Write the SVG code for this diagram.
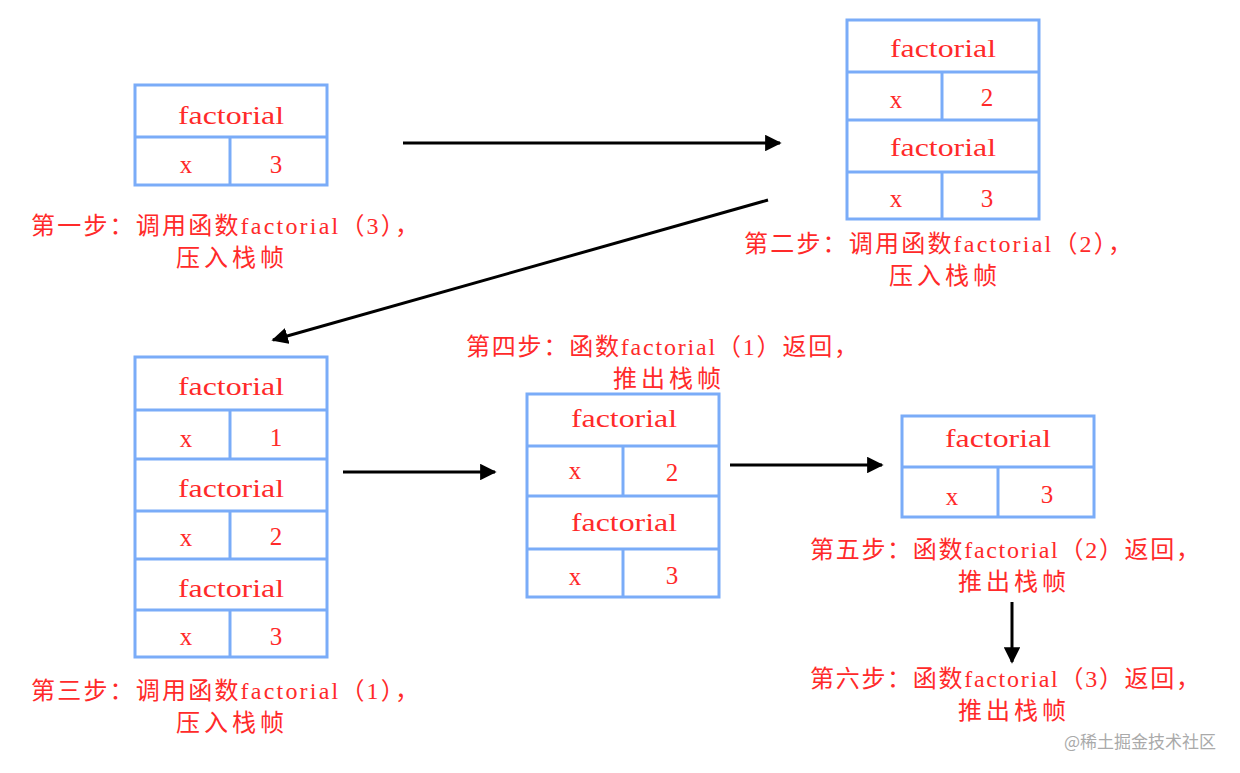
<svg xmlns="http://www.w3.org/2000/svg" width="1240" height="773" viewBox="0 0 1240 773">
<defs>
<marker id="ah" viewBox="0 0 10 10" refX="9" refY="5" markerWidth="5.5" markerHeight="5.5" orient="auto" markerUnits="strokeWidth">
<path d="M0,0 L10,5 L0,10 z" fill="#000"/>
</marker>
<style>
.box{fill:#fff;stroke:#7aacf8;stroke-width:3}
.ln{stroke:#7aacf8;stroke-width:3}
.t{font-family:"Liberation Serif","Noto Sans CJK SC",serif;fill:#ff2a2a;text-anchor:middle}
.f{font-size:26px}
.v{font-size:25px}
.lab{font-family:"Liberation Serif","Noto Sans CJK SC",serif;font-size:24px;fill:#ff2a2a;text-anchor:middle}
.arr{stroke:#000;stroke-width:3;fill:none;marker-end:url(#ah)}
</style>
</defs>
<rect width="1240" height="773" fill="#fff"/>

<g id="connectors">
<line class="arr" x1="403" y1="143" x2="780" y2="143"/>
<line class="arr" x1="768" y1="200" x2="273" y2="340"/>
<line class="arr" x1="343" y1="472" x2="495" y2="472"/>
<line class="arr" x1="730" y1="465" x2="882" y2="465"/>
<line class="arr" x1="1012" y1="602" x2="1012" y2="662"/>
</g>

<g id="stack1">
<rect class="box" x="135" y="85" width="192" height="100"/>
<line class="ln" x1="135" y1="137" x2="327" y2="137"/>
<line class="ln" x1="230" y1="137" x2="230" y2="185"/>
<text class="t f" x="231" y="124" textLength="106" lengthAdjust="spacingAndGlyphs">factorial</text>
<text class="t v" x="186" y="173">x</text>
<text class="t v" x="276" y="173">3</text>
</g>

<g id="stack2">
<rect class="box" x="847" y="20" width="192" height="199"/>
<line class="ln" x1="847" y1="72" x2="1039" y2="72"/>
<line class="ln" x1="847" y1="120" x2="1039" y2="120"/>
<line class="ln" x1="847" y1="172" x2="1039" y2="172"/>
<line class="ln" x1="942" y1="72" x2="942" y2="120"/>
<line class="ln" x1="942" y1="172" x2="942" y2="219"/>
<text class="t f" x="943" y="57" textLength="106" lengthAdjust="spacingAndGlyphs">factorial</text>
<text class="t v" x="896" y="108">x</text>
<text class="t v" x="987" y="106">2</text>
<text class="t f" x="943" y="156" textLength="106" lengthAdjust="spacingAndGlyphs">factorial</text>
<text class="t v" x="896" y="207">x</text>
<text class="t v" x="987" y="207">3</text>
</g>

<g id="stack3">
<rect class="box" x="135" y="357" width="192" height="300"/>
<line class="ln" x1="135" y1="410" x2="327" y2="410"/>
<line class="ln" x1="135" y1="459" x2="327" y2="459"/>
<line class="ln" x1="135" y1="511" x2="327" y2="511"/>
<line class="ln" x1="135" y1="559" x2="327" y2="559"/>
<line class="ln" x1="135" y1="610" x2="327" y2="610"/>
<line class="ln" x1="230" y1="410" x2="230" y2="459"/>
<line class="ln" x1="230" y1="511" x2="230" y2="559"/>
<line class="ln" x1="230" y1="610" x2="230" y2="657"/>
<text class="t f" x="231" y="395" textLength="106" lengthAdjust="spacingAndGlyphs">factorial</text>
<text class="t v" x="186" y="447">x</text>
<text class="t v" x="276" y="446">1</text>
<text class="t f" x="231" y="497" textLength="106" lengthAdjust="spacingAndGlyphs">factorial</text>
<text class="t v" x="186" y="546">x</text>
<text class="t v" x="276" y="545">2</text>
<text class="t f" x="231" y="597" textLength="106" lengthAdjust="spacingAndGlyphs">factorial</text>
<text class="t v" x="186" y="645">x</text>
<text class="t v" x="276" y="645">3</text>
</g>

<g id="stack4">
<rect class="box" x="527" y="394" width="192" height="203"/>
<line class="ln" x1="527" y1="446" x2="719" y2="446"/>
<line class="ln" x1="527" y1="496" x2="719" y2="496"/>
<line class="ln" x1="527" y1="549" x2="719" y2="549"/>
<line class="ln" x1="623" y1="446" x2="623" y2="496"/>
<line class="ln" x1="623" y1="549" x2="623" y2="597"/>
<text class="t f" x="624" y="427" textLength="106" lengthAdjust="spacingAndGlyphs">factorial</text>
<text class="t v" x="575" y="479">x</text>
<text class="t v" x="672" y="481">2</text>
<text class="t f" x="624" y="531" textLength="106" lengthAdjust="spacingAndGlyphs">factorial</text>
<text class="t v" x="575" y="585">x</text>
<text class="t v" x="672" y="584">3</text>
</g>

<g id="stack5">
<rect class="box" x="902" y="416" width="192" height="101"/>
<line class="ln" x1="902" y1="467" x2="1094" y2="467"/>
<line class="ln" x1="998" y1="467" x2="998" y2="517"/>
<text class="t f" x="998" y="447" textLength="106" lengthAdjust="spacingAndGlyphs">factorial</text>
<text class="t v" x="952" y="505">x</text>
<text class="t v" x="1047" y="503">3</text>
</g>

<g id="labels">
<text class="lab" x="225" y="234" textLength="388" lengthAdjust="spacing">第一步：调用函数factorial（3），</text>
<text class="lab" x="230" y="266" textLength="108" lengthAdjust="spacing">压入栈帧</text>
<text class="lab" x="938" y="252" textLength="388" lengthAdjust="spacing">第二步：调用函数factorial（2），</text>
<text class="lab" x="943" y="284" textLength="108" lengthAdjust="spacing">压入栈帧</text>
<text class="lab" x="225" y="699" textLength="388" lengthAdjust="spacing">第三步：调用函数factorial（1），</text>
<text class="lab" x="230" y="731" textLength="108" lengthAdjust="spacing">压入栈帧</text>
<text class="lab" x="662" y="355" textLength="392" lengthAdjust="spacing">第四步：函数factorial（1）返回，</text>
<text class="lab" x="667" y="387" textLength="108" lengthAdjust="spacing">推出栈帧</text>
<text class="lab" x="1005" y="558" textLength="390" lengthAdjust="spacing">第五步：函数factorial（2）返回，</text>
<text class="lab" x="1012" y="590" textLength="108" lengthAdjust="spacing">推出栈帧</text>
<text class="lab" x="1005" y="687" textLength="390" lengthAdjust="spacing">第六步：函数factorial（3）返回，</text>
<text class="lab" x="1012" y="719" textLength="108" lengthAdjust="spacing">推出栈帧</text>
</g>

<text x="1140" y="748" font-family="'Noto Sans CJK SC',sans-serif" font-size="17" fill="#aaa" text-anchor="middle">@稀土掘金技术社区</text>
</svg>
